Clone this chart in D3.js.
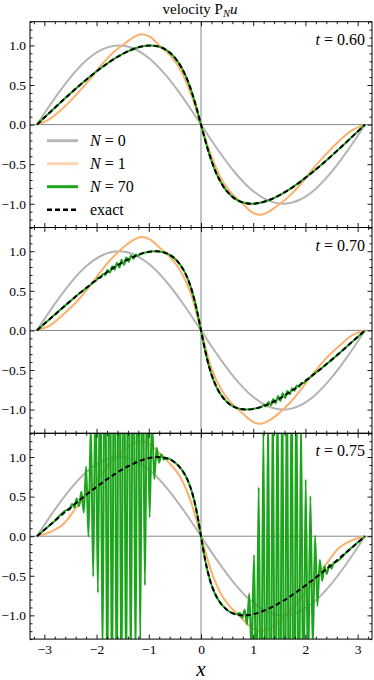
<!DOCTYPE html>
<html>
<head>
<meta charset="utf-8">
<script src="https://cdn.jsdelivr.net/npm/d3@7"></script>
<style>
  body { margin: 0; background: #fff; }
  svg { display: block; }
</style>
</head>
<body>
<div id="chart"></div>
<script>
// N = 0 : stays at the initial profile
const grayX = [-3.1416, -2.8, -2.5, -2.2, -1.9, -1.5708, -1.25, -0.95, -0.65, -0.32, 0, 0.32, 0.65, 0.95, 1.25, 1.5708, 1.9, 2.2, 2.5, 2.8, 3.1416]
const grayY = [0, 0.335, 0.598, 0.809, 0.946, 1, 0.949, 0.813, 0.605, 0.315, 0, -0.315, -0.605, -0.813, -0.949, -1, -0.946, -0.809, -0.598, -0.335, 0]

// N = 1
const orangeX = [-3.1416, -2.9, -2.64, -2.4, -2.13, -1.9, -1.68, -1.45, -1.3, -1.14, -0.98, -0.8, -0.6, -0.4, -0.2, 0, 0.2, 0.4, 0.6, 0.8, 0.98, 1.14, 1.3, 1.45, 1.68, 1.9, 2.13, 2.4, 2.64, 2.9, 3.1416]
const orange60 = [0, 0.07, 0.21, 0.37, 0.57, 0.76, 0.91, 1.03, 1.1, 1.14, 1.11, 1.0, 0.88, 0.7, 0.4, 0, -0.4, -0.7, -0.88, -1.0, -1.11, -1.14, -1.1, -1.03, -0.91, -0.76, -0.57, -0.37, -0.21, -0.07, 0]
const orange70 = [0, 0.06, 0.2, 0.35, 0.56, 0.76, 0.93, 1.07, 1.14, 1.18, 1.15, 1.05, 0.93, 0.76, 0.48, 0, -0.48, -0.76, -0.93, -1.05, -1.15, -1.18, -1.14, -1.07, -0.93, -0.76, -0.56, -0.35, -0.2, -0.06, 0]
const orange75 = [0, 0.05, 0.15, 0.35, 0.59, 0.79, 0.96, 1.1, 1.17, 1.2, 1.16, 1.05, 0.92, 0.75, 0.45, 0, -0.45, -0.75, -0.92, -1.05, -1.16, -1.2, -1.17, -1.1, -0.96, -0.79, -0.59, -0.35, -0.15, -0.05, 0]

// exact solution, same values for every t, positions shift with t
const exactU = [0, 0.190, 0.335, 0.472, 0.598, 0.711, 0.809, 0.887, 0.946, 0.984, 1, 0.985, 0.932, 0.841, 0.783, 0.717, 0.644, 0.565, 0.479, 0.389, 0.296, 0.199, 0.100, 0.050, 0, -0.050, -0.100, -0.199, -0.296, -0.389, -0.479, -0.565, -0.644, -0.717, -0.783, -0.841, -0.932, -0.985, -1, -0.984, -0.946, -0.887, -0.809, -0.711, -0.598, -0.472, -0.335, -0.190, 0]
const exactX60 = [-3.1416, -2.8357, -2.5990, -2.3668, -2.1409, -1.9231, -1.7149, -1.5176, -1.3322, -1.1596, -0.9708, -0.8087, -0.6408, -0.4951, -0.4300, -0.3696, -0.3135, -0.2612, -0.2123, -0.1663, -0.1227, -0.0808, -0.0401, -0.0200, 0, 0.0200, 0.0401, 0.0808, 0.1227, 0.1663, 0.2123, 0.2612, 0.3135, 0.3696, 0.4300, 0.4951, 0.6408, 0.8087, 0.9708, 1.1596, 1.3322, 1.5176, 1.7149, 1.9231, 2.1409, 2.3668, 2.5990, 2.8357, 3.1416]
const exactX70 = [-3.1416, -2.8167, -2.5655, -2.3196, -2.0811, -1.8520, -1.6340, -1.4288, -1.2376, -1.0612, -0.8708, -0.7102, -0.5476, -0.4110, -0.3517, -0.2978, -0.2490, -0.2048, -0.1644, -0.1274, -0.0931, -0.0609, -0.0301, -0.0150, 0, 0.0150, 0.0301, 0.0609, 0.0931, 0.1274, 0.1644, 0.2048, 0.2490, 0.2978, 0.3517, 0.4110, 0.5476, 0.7102, 0.8708, 1.0612, 1.2376, 1.4288, 1.6340, 1.8520, 2.0811, 2.3196, 2.5655, 2.8167, 3.1416]
const exactX75 = [-3.1416, -2.8072, -2.5488, -2.2960, -2.0511, -1.8164, -1.5936, -1.3845, -1.1903, -1.0120, -0.8208, -0.6609, -0.5010, -0.3689, -0.3125, -0.2620, -0.2168, -0.1765, -0.1404, -0.1079, -0.0784, -0.0510, -0.0251, -0.0125, 0, 0.0125, 0.0251, 0.0510, 0.0784, 0.1079, 0.1404, 0.1765, 0.2168, 0.2620, 0.3125, 0.3689, 0.5010, 0.6609, 0.8208, 1.0120, 1.1903, 1.3845, 1.5936, 1.8164, 2.0511, 2.2960, 2.5488, 2.8072, 3.1416]

// N = 70 oscillations ("tygers"), extremes
const tyger70Left = [[-2.06, 0.613], [-2.015, 0.624], [-1.97, 0.664], [-1.925, 0.662], [-1.88, 0.714], [-1.835, 0.697], [-1.79, 0.762], [-1.745, 0.731], [-1.70, 0.809], [-1.655, 0.765], [-1.61, 0.854], [-1.565, 0.794], [-1.52, 0.891], [-1.475, 0.828], [-1.43, 0.921], [-1.385, 0.867], [-1.34, 0.946], [-1.295, 0.905], [-1.25, 0.959], [-1.205, 0.943], [-1.16, 0.967]]
const tyger70Right = [[1.16, -0.967], [1.205, -0.943], [1.25, -0.959], [1.295, -0.905], [1.34, -0.946], [1.385, -0.867], [1.43, -0.921], [1.475, -0.828], [1.52, -0.891], [1.565, -0.794], [1.61, -0.854], [1.655, -0.765], [1.70, -0.809], [1.745, -0.731], [1.79, -0.762], [1.835, -0.697], [1.88, -0.714], [1.925, -0.662], [1.97, -0.664], [2.015, -0.624], [2.06, -0.613]]
const tyger75Left = [[-2.515, 0.333], [-2.47, 0.408], [-2.425, 0.362], [-2.38, 0.477], [-2.335, 0.38], [-2.29, 0.564], [-2.245, 0.297], [-2.2, 0.881], [-2.155, -0.006], [-2.11, 1.418], [-2.065, -0.509], [-2.02, 1.864], [-1.975, -0.715], [-1.93, 2.457], [-1.885, -1.521], [-1.84, 3.299], [-1.795, -2.181], [-1.75, 3.739], [-1.705, -2.341], [-1.66, 3.979], [-1.615, -2.401], [-1.57, 4.017], [-1.525, -2.266], [-1.48, 3.85], [-1.435, -2.084], [-1.39, 3.783], [-1.345, -1.901], [-1.3, 3.614], [-1.255, -1.673], [-1.21, 3.39], [-1.165, -1.348], [-1.12, 2.911], [-1.075, -0.619], [-1.03, 2.18], [-0.985, 0.236], [-0.94, 1.49], [-0.895, 0.723], [-0.85, 1.117], [-0.805, 0.929], [-0.76, 1.034], [-0.715, 0.97]]
const tyger75Right = [[0.745, -0.97], [0.79, -1.034], [0.835, -0.929], [0.88, -1.117], [0.925, -0.723], [0.97, -1.49], [1.015, -0.236], [1.06, -2.18], [1.105, 0.619], [1.15, -2.911], [1.195, 1.348], [1.24, -3.39], [1.285, 1.673], [1.33, -3.614], [1.375, 1.901], [1.42, -3.783], [1.465, 2.084], [1.51, -3.85], [1.555, 2.266], [1.6, -4.017], [1.645, 2.401], [1.69, -3.979], [1.735, 2.341], [1.78, -3.739], [1.825, 2.181], [1.87, -3.299], [1.915, 1.521], [1.96, -2.457], [2.005, 0.715], [2.05, -1.864], [2.095, 0.509], [2.14, -1.418], [2.185, 0.006], [2.23, -0.881], [2.275, -0.297], [2.32, -0.564], [2.365, -0.38], [2.41, -0.477], [2.455, -0.362], [2.5, -0.408], [2.545, -0.333]]

const panels = [
  {label: "0.60", exactX: exactX60, orange: orange60, tygers: []},
  {label: "0.70", exactX: exactX70, orange: orange70, tygers: [tyger70Left, tyger70Right]},
  {label: "0.75", exactX: exactX75, orange: orange75, tygers: [tyger75Left, tyger75Right]}
]

const legendItems = [
  {n: "0", color: "#b8b8b8"},
  {n: "1", color: "#fdd4b2"},
  {n: "70", color: "#1ca51c"},
  {n: null, color: "#000"}
]

const xTicks = [-3, -2, -1, 0, 1, 2, 3]
const yTicks = [-1, -0.5, 0, 0.5, 1]

const FONT = "'Liberation Serif', 'Times New Roman', serif"

const config = {
  width: 374,
  height: 680,
  left: 30,
  right: 372,
  top: 21.7,
  panelHeight: 205.8,
  gray: "#b4b4b4",
  orange: "#fbb16c",
  green: "#1ca51c",
  tickMajor: 4.5,
  tickMinor: 2.5
}

const svg = d3.select("#chart").append("svg")
    .attr("width", config.width)
    .attr("height", config.height)
    .style("font-family", FONT)

const x = d3.scaleLinear()
    .domain([-3.275, 3.275])
    .range([config.left, config.right])

const minorX = d3.range(-16, 17).filter(v => v % 5 !== 0).map(v => v / 5)
const minorY = d3.range(-13, 14).filter(v => v % 5 !== 0).map(v => v / 10)

function greenPoints (exactX, tygers) {
  const base = exactX.map((v, i) => [v, exactU[i]])
    .filter(([v]) => !tygers.some(t => v >= t[0][0] && v <= t[t.length - 1][0]))
  return base.concat(...tygers).sort((a, b) => a[0] - b[0])
}

function addAxis (g, axis, transform, showLabels) {
  g.append("g")
    .attr("transform", transform)
    .call(axis)
    .attr("font-family", null)
    .call(s => s.select(".domain").remove())
    .call(s => s.selectAll("line").attr("stroke", "#000").attr("stroke-width", 0.9))
    .call(s => s.selectAll("text")
      .style("font-family", FONT)
      .attr("font-size", 13.5)
      .attr("fill", "#000")
      .style("display", showLabels ? null : "none"))
}

function drawPanel (panel, i) {
  const top = config.top + i * config.panelHeight
  const bottom = top + config.panelHeight
  const y = d3.scaleLinear().domain([-1.3, 1.3]).range([bottom, top])
  const g = svg.append("g")

  g.append("clipPath")
      .attr("id", `clip${i}`)
    .append("rect")
      .attr("x", config.left)
      .attr("y", top)
      .attr("width", config.right - config.left)
      .attr("height", config.panelHeight)

  const plot = g.append("g").attr("clip-path", `url(#clip${i})`)

  // axes through the origin
  plot.append("line")
    .attr("x1", config.left).attr("x2", config.right)
    .attr("y1", y(0)).attr("y2", y(0))
    .attr("stroke", "#666").attr("stroke-width", 0.8)
  plot.append("line")
    .attr("x1", x(0)).attr("x2", x(0))
    .attr("y1", top).attr("y2", bottom)
    .attr("stroke", "#666").attr("stroke-width", 0.8)

  const line = d3.line()
    .x(d => x(d[0]))
    .y(d => y(d[1]))
    .curve(d3.curveMonotoneX)

  plot.append("path")
    .datum(d3.zip(grayX, grayY))
    .attr("d", line)
    .attr("fill", "none").attr("stroke", config.gray).attr("stroke-width", 2)

  plot.append("path")
    .datum(d3.zip(orangeX, panel.orange))
    .attr("d", line)
    .attr("fill", "none").attr("stroke", config.orange).attr("stroke-width", 2)

  plot.append("path")
    .datum(greenPoints(panel.exactX, panel.tygers))
    .attr("d", line)
    .attr("fill", "none").attr("stroke", config.green).attr("stroke-width", 2)
    .attr("stroke-linejoin", "round")

  plot.append("path")
    .datum(d3.zip(panel.exactX, exactU))
    .attr("d", line)
    .attr("fill", "none").attr("stroke", "#000").attr("stroke-width", 2)
    .attr("stroke-dasharray", "5,3")

  // frame ticks, all pointing inward
  const isLast = i === panels.length - 1
  addAxis(g, d3.axisLeft(y).tickValues(yTicks).tickSize(-config.tickMajor).tickSizeOuter(0)
    .tickPadding(4).tickFormat(d3.format(".1f")), "translate(" + config.left + ",0)", true)
  addAxis(g, d3.axisLeft(y).tickValues(minorY).tickSize(-config.tickMinor).tickSizeOuter(0)
    .tickFormat(""), "translate(" + config.left + ",0)", false)
  addAxis(g, d3.axisRight(y).tickValues(yTicks).tickSize(-config.tickMajor).tickSizeOuter(0)
    .tickFormat(""), "translate(" + config.right + ",0)", false)
  addAxis(g, d3.axisRight(y).tickValues(minorY).tickSize(-config.tickMinor).tickSizeOuter(0)
    .tickFormat(""), "translate(" + config.right + ",0)", false)
  addAxis(g, d3.axisBottom(x).tickValues(xTicks).tickSize(-config.tickMajor).tickSizeOuter(0)
    .tickPadding(5).tickFormat(d3.format("d")), "translate(0," + bottom + ")", isLast)
  addAxis(g, d3.axisBottom(x).tickValues(minorX).tickSize(-config.tickMinor).tickSizeOuter(0)
    .tickFormat(""), "translate(0," + bottom + ")", false)
  addAxis(g, d3.axisTop(x).tickValues(xTicks).tickSize(-config.tickMajor).tickSizeOuter(0)
    .tickFormat(""), "translate(0," + top + ")", false)
  addAxis(g, d3.axisTop(x).tickValues(minorX).tickSize(-config.tickMinor).tickSizeOuter(0)
    .tickFormat(""), "translate(0," + top + ")", false)

  g.append("rect")
    .attr("x", config.left)
    .attr("y", top)
    .attr("width", config.right - config.left)
    .attr("height", config.panelHeight)
    .attr("fill", "none")
    .attr("stroke", "#000")
    .attr("stroke-width", 1)

  const tLabel = g.append("text")
    .attr("x", config.right - 7)
    .attr("y", top + 23)
    .attr("text-anchor", "end")
    .attr("font-size", 16)
  tLabel.append("tspan").attr("font-style", "italic").text("t")
  tLabel.append("tspan").text(" = " + panel.label)

  if (i === 0) drawLegend(g, top)
}

function drawLegend (g, top) {
  const items = g.selectAll(".legend-item")
    .data(legendItems)
    .enter().append("g")
      .attr("class", "legend-item")
      .attr("transform", (d, k) => `translate(0,${top + 119 + k * 23})`)

  items.append("line")
    .attr("x1", 47).attr("x2", 78)
    .attr("stroke", d => d.color)
    .attr("stroke-width", d => d.n === null ? 2.5 : 3)
    .attr("stroke-dasharray", d => d.n === null ? "5,3" : null)

  items.append("text")
    .attr("x", 90)
    .attr("y", 5.5)
    .attr("font-size", 16)
    .each(function (d) {
      const t = d3.select(this)
      if (d.n === null) {
        t.text("exact")
      } else {
        t.append("tspan").attr("font-style", "italic").text("N")
        t.append("tspan").text(" = " + d.n)
      }
    })
}

panels.forEach(drawPanel)

const title = svg.append("text")
  .attr("x", 200)
  .attr("y", 14)
  .attr("text-anchor", "middle")
  .attr("font-size", 15)
title.append("tspan").text("velocity P")
title.append("tspan").attr("font-style", "italic").attr("font-size", 10.5).attr("dy", 3).text("N")
title.append("tspan").attr("font-style", "italic").attr("font-size", 15).attr("dy", -3).text("u")

svg.append("text")
  .attr("x", x(0))
  .attr("y", 676)
  .attr("text-anchor", "middle")
  .attr("font-size", 21)
  .attr("font-style", "italic")
  .text("x")
</script>
</body>
</html>
